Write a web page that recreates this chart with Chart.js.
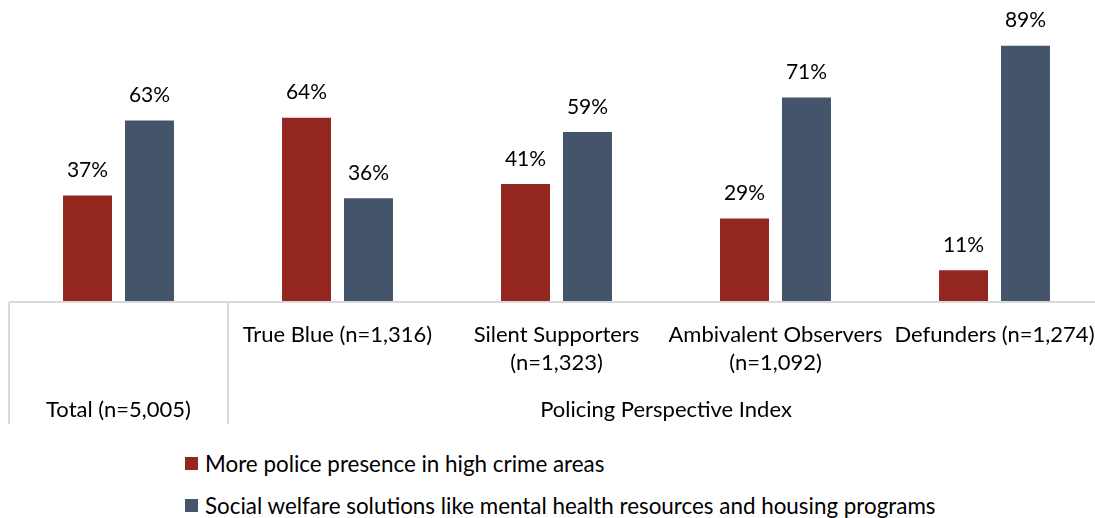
<!DOCTYPE html>
<html>
<head>
<meta charset="utf-8">
<script src="https://cdn.jsdelivr.net/npm/chart.js@4.4.0/dist/chart.umd.min.js"></script>
<style>
    html, body { margin: 0; padding: 0; background: #fff; overflow: hidden; }
    #wrap { position: relative; width: 1110px; height: 430px; }
    .legend { position: absolute; left: 185px; top: 442px; font-family: Lato, sans-serif; font-size: 22.4px; color: #000; }
    .legend div { display: flex; align-items: center; height: 42px; }
    .legend span.box { display: inline-block; width: 13px; height: 13px; margin-right: 7px; }
</style>
</head>
<body>
<div id="wrap"><canvas id="mainChart"></canvas></div>
<div class="legend" id="legend"></div>
<script>
// Chart data
const categories = [
    ['Total (n=5,005)'],
    ['True Blue (n=1,316)'],
    ['Silent Supporters', '(n=1,323)'],
    ['Ambivalent Observers', '(n=1,092)'],
    ['Defunders (n=1,274)']
];
const groupLabel = 'Policing Perspective Index';
const seriesNames = [
    'More police presence in high crime areas',
    'Social welfare solutions like mental health resources and housing programs'
];
const policeValues = [37, 64, 41, 29, 11];
const welfareValues = [63, 36, 59, 71, 89];
const colors = ['#942620', '#44546a'];

const FONT = 'Lato, sans-serif';
const GRID = '#d9d9d9';

// Value labels + multi-level axis lines
const overlayPlugin = {
    id: 'overlay',
    afterDatasetsDraw(chart) {
        const { ctx, chartArea, scales } = chart;
        ctx.save();
        ctx.font = '21px ' + FONT;
        ctx.fillStyle = '#000';
        ctx.textAlign = 'center';
        ctx.textBaseline = 'middle';
        chart.data.datasets.forEach((ds, i) => {
            chart.getDatasetMeta(i).data.forEach((bar, j) => {
                ctx.fillText(ds.data[j] + '%', bar.x, bar.y - 25);
            });
        });

        const x = scales.x;
        const half = (x.getPixelForValue(1) - x.getPixelForValue(0)) / 2;
        const left = x.getPixelForValue(0) - half;
        const split = x.getPixelForValue(1) - half;
        const right = x.getPixelForValue(4) + half;
        const base = chartArea.bottom;
        const bottom = base + 122;

        ctx.strokeStyle = GRID;
        ctx.lineWidth = 2;
        ctx.beginPath();
        ctx.moveTo(left, base);
        ctx.lineTo(right, base);
        ctx.moveTo(left, base);
        ctx.lineTo(left, bottom);
        ctx.moveTo(split, base);
        ctx.lineTo(split, bottom);
        ctx.stroke();

        ctx.font = '22px ' + FONT;
        ctx.fillText(categories[0][0], x.getPixelForValue(0), base + 108);
        ctx.fillText(groupLabel, (split + right) / 2, base + 108);
        ctx.restore();
    }
};

const ctx = document.getElementById('mainChart').getContext('2d');
const mainChart = new Chart(ctx, {
    type: 'bar',
    data: {
        labels: categories,
        datasets: [{
            label: seriesNames[0],
            data: policeValues,
            backgroundColor: colors[0]
        }, {
            label: seriesNames[1],
            data: welfareValues,
            backgroundColor: colors[1]
        }]
    },
    options: {
        responsive: true,
        maintainAspectRatio: false,
        animation: false,
        layout: { padding: { left: 9, right: 6, top: 14, bottom: 0 } },
        datasets: {
            bar: { categoryPercentage: 0.566, barPercentage: 0.79 }
        },
        plugins: {
            legend: { display: false },
            tooltip: { enabled: false }
        },
        scales: {
            y: {
                display: false,
                min: 0,
                max: 100
            },
            x: {
                grid: { display: false, drawTicks: false },
                border: { display: false },
                ticks: {
                    autoSkip: false,
                    maxRotation: 0,
                    minRotation: 0,
                    padding: 19,
                    color: '#000',
                    font: { family: FONT, size: 22, lineHeight: 1.27 },
                    callback: (val, i) => i === 0 ? '' : categories[i]
                },
                afterFit: scale => {
                    scale.height = 128;
                    scale.paddingLeft = 0;
                    scale.paddingRight = 0;
                }
            }
        }
    },
    plugins: [overlayPlugin]
});

// HTML legend, stacked and left aligned
const legend = document.getElementById('legend');
mainChart.data.datasets.forEach(ds => {
    const row = document.createElement('div');
    row.innerHTML = `<span class="box" style="background:${ds.backgroundColor}"></span>${ds.label}`;
    legend.appendChild(row);
});
</script>
</body>
</html>
